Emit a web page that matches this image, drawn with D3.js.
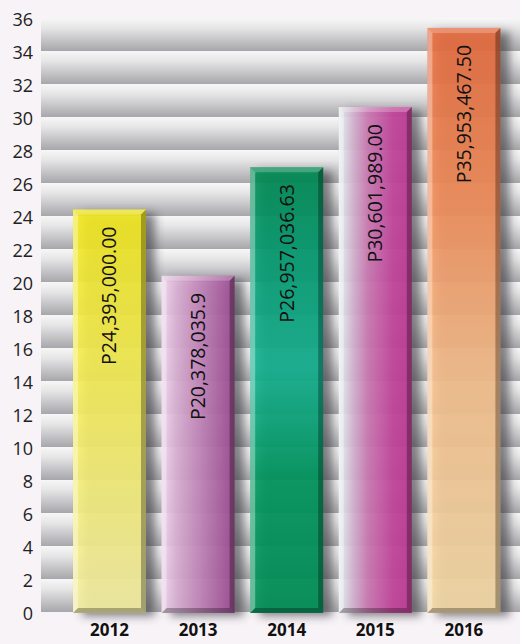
<!DOCTYPE html>
<html>
<head>
<meta charset="utf-8">
<script src="https://cdn.jsdelivr.net/npm/d3@7"></script>
<style>
	body { margin: 0; background: #f8f3f7; }
	svg { display: block; }
</style>
</head>
<body>
<div id="chart"></div>
<script>

// values in millions of pesos (bar heights)
const years = ["2012", "2013", "2014", "2015", "2016"];
const amounts = [24.395, 20.378, 26.957, 30.602, 35.4];
const amountLabels = ["P24,395,000.00", "P20,378,035.9", "P26,957,036.63", "P30,601,989.00", "P35,953,467.50"];
const yTicks = [0, 2, 4, 6, 8, 10, 12, 14, 16, 18, 20, 22, 24, 26, 28, 30, 32, 34, 36];

// fill of each bar: direction + colour stops
const barFills = [
	{ dir: "v", stops: [[0, "#f3e91c"], [0.35, "#f7ef4e"], [1, "#f7f1a6"]] },
	{ dir: "h", stops: [[0, "#eed3ea"], [0.5, "#c98bc0"], [1, "#9e4b93"]] },
	{ dir: "v", stops: [[0, "#008a52"], [0.2, "#059e72"], [0.45, "#14b392"], [0.7, "#00985f"], [1, "#009258"]] },
	{ dir: "h", stops: [[0, "#e3f3f3"], [0.4, "#d07cb7"], [0.75, "#c7449f"], [1, "#c23c98"]] },
	{ dir: "v", stops: [[0, "#e86b3e"], [0.3, "#f38f5b"], [0.6, "#f7c18e"], [1, "#f6dca8"]] }
];

let width = 520, height = 644;
let margin = { top: 18, left: 41, bottom: 32 };

let svg = d3.select("#chart").append("svg")
	.attr("width", width)
	.attr("height", height);

let defs = svg.append("defs");

// background band gradient (white -> grey)
let bandGrad = defs.append("linearGradient")
	.attr("id", "band")
	.attr("x1", 0).attr("y1", 0).attr("x2", 0).attr("y2", 1);
bandGrad.append("stop").attr("offset", 0).attr("stop-color", "#f7f7f7");
bandGrad.append("stop").attr("offset", 0.3).attr("stop-color", "#e6e6e7");
bandGrad.append("stop").attr("offset", 1).attr("stop-color", "#a7a7ab");

barFills.forEach((f, i) => {
	let g = defs.append("linearGradient")
		.attr("id", "bar" + i)
		.attr("x1", 0).attr("y1", 0)
		.attr("x2", f.dir == "h" ? 1 : 0)
		.attr("y2", f.dir == "v" ? 1 : 0);
	f.stops.forEach(s => g.append("stop").attr("offset", s[0]).attr("stop-color", s[1]));
});

let shadow = defs.append("filter")
	.attr("id", "shadow")
	.attr("x", "-30%").attr("y", "-10%").attr("width", "160%").attr("height", "120%");
shadow.append("feGaussianBlur").attr("stdDeviation", 5);

// scales
let y = d3.scaleLinear()
	.domain([0, 36])
	.range([height - margin.bottom, margin.top]);

let x = d3.scaleBand()
	.domain(years)
	.range([65.2, 508.2])
	.paddingInner(0.176)
	.paddingOuter(0.088);

// shaded bands between gridlines
let bands = yTicks.slice(1).map((t, i) => [yTicks[i], t]);
svg.append("g")
	.selectAll("rect")
	.data(bands)
	.enter().append("rect")
	.attr("x", margin.left)
	.attr("width", width - margin.left)
	.attr("y", d => y(d[1]))
	.attr("height", d => y(d[0]) - y(d[1]))
	.attr("fill", "url(#band)");

// y axis labels
let yAxis = d3.axisLeft(y)
	.tickValues(yTicks)
	.tickSize(0)
	.tickPadding(8);

let yGroup = svg.append("g")
	.attr("transform", `translate(${margin.left},2)`)
	.call(yAxis);
yGroup.select(".domain").remove();
yGroup.selectAll("text")
	.attr("font-family", "'Open Sans', sans-serif")
	.attr("font-size", 18)
	.attr("fill", "#222");

// x axis labels
let xAxis = d3.axisBottom(x).tickSize(0).tickPadding(12);
let xGroup = svg.append("g")
	.attr("transform", `translate(0,${y(0)})`)
	.call(xAxis);
xGroup.select(".domain").remove();
xGroup.selectAll("text")
	.attr("font-family", "'Open Sans', sans-serif")
	.attr("font-weight", "bold")
	.attr("font-size", 17)
	.attr("fill", "#111");

let data = years.map((yr, i) => ({ year: yr, value: amounts[i], label: amountLabels[i], i: i }));
let bw = x.bandwidth();
let bev = 5;

// bar shadows
svg.append("g")
	.selectAll("rect")
	.data(data)
	.enter().append("rect")
	.attr("x", d => x(d.year) + 9)
	.attr("y", d => y(d.value) + 4)
	.attr("width", bw)
	.attr("height", d => y(0) - y(d.value))
	.attr("fill", "#333337")
	.attr("opacity", 0.6)
	.attr("filter", "url(#shadow)");

let bars = svg.append("g")
	.selectAll("g")
	.data(data)
	.enter().append("g");

bars.append("rect")
	.attr("x", d => x(d.year))
	.attr("y", d => y(d.value))
	.attr("width", bw)
	.attr("height", d => y(0) + 1 - y(d.value))
	.attr("fill", d => `url(#bar${d.i})`)
	.attr("opacity", 0.9);

// bevel edges
function bevel(d, side) {
	let x0 = x(d.year), x1 = x0 + bw, y0 = y(d.value), y1 = y(0) + 1;
	let p;
	if (side == "top") p = [[x0, y0], [x1, y0], [x1 - bev, y0 + bev], [x0 + bev, y0 + bev]];
	if (side == "left") p = [[x0, y0], [x0 + bev, y0 + bev], [x0 + bev, y1 - bev], [x0, y1]];
	if (side == "right") p = [[x1, y0], [x1, y1], [x1 - bev, y1 - bev], [x1 - bev, y0 + bev]];
	if (side == "bottom") p = [[x0, y1], [x1, y1], [x1 - bev, y1 - bev], [x0 + bev, y1 - bev]];
	return p.map(q => q.join(",")).join(" ");
}
[["top", "#fff", 0.22], ["left", "#fff", 0.35], ["right", "#000", 0.3], ["bottom", "#000", 0.28]].forEach(s => {
	bars.append("polygon")
		.attr("points", d => bevel(d, s[0]))
		.attr("fill", s[1])
		.attr("opacity", s[2]);
});

// rotated value labels
bars.append("text")
	.attr("transform", d => `translate(${x(d.year) + bw / 2},${y(d.value) + 17}) rotate(-90)`)
	.attr("text-anchor", "end")
	.attr("dy", "0.35em")
	.attr("font-family", "'Open Sans', sans-serif")
	.attr("font-size", 19.5)
	.attr("fill", "#111")
	.text(d => d.label);

</script>
</body>
</html>
